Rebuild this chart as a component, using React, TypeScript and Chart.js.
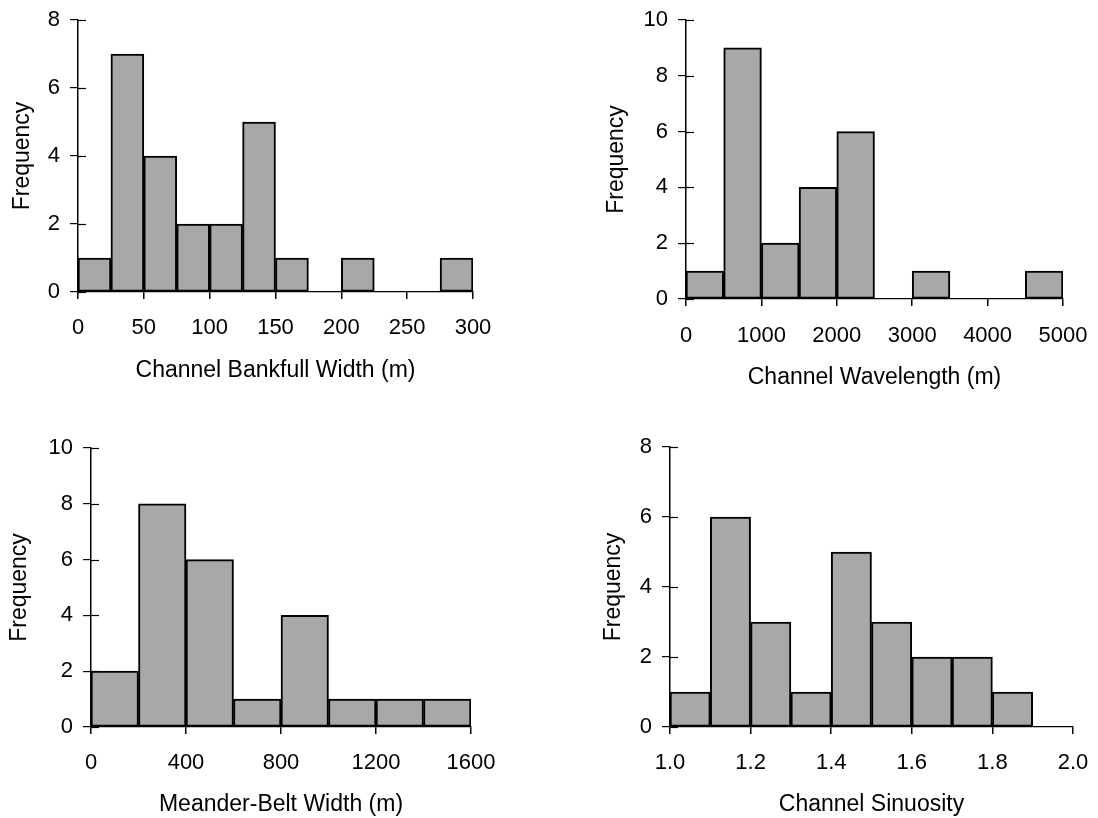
import React, { useEffect, useRef } from 'react';
import { Chart, registerables } from 'chart.js';

Chart.register(...registerables);

// ---------- data ----------
const bankfullBinStarts = [0, 25, 50, 75, 100, 125, 150, 175, 200, 225, 250, 275];
const bankfullBinWidth = 25;
const bankfullCounts = [1, 7, 4, 2, 2, 5, 1, 0, 1, 0, 0, 1];
const bankfullXTicks = [0, 50, 100, 150, 200, 250, 300];
const bankfullXLabels = ['0', '50', '100', '150', '200', '250', '300'];
const bankfullYTicks = [0, 2, 4, 6, 8];

const wavelengthBinStarts = [0, 500, 1000, 1500, 2000, 2500, 3000, 3500, 4000, 4500];
const wavelengthBinWidth = 500;
const wavelengthCounts = [1, 9, 2, 4, 6, 0, 1, 0, 0, 1];
const wavelengthXTicks = [0, 1000, 2000, 3000, 4000, 5000];
const wavelengthXLabels = ['0', '1000', '2000', '3000', '4000', '5000'];
const wavelengthYTicks = [0, 2, 4, 6, 8, 10];

const beltBinStarts = [0, 200, 400, 600, 800, 1000, 1200, 1400];
const beltBinWidth = 200;
const beltCounts = [2, 8, 6, 1, 4, 1, 1, 1];
const beltXTicks = [0, 400, 800, 1200, 1600];
const beltXLabels = ['0', '400', '800', '1200', '1600'];
const beltYTicks = [0, 2, 4, 6, 8, 10];

const sinuosityBinStarts = [1.0, 1.1, 1.2, 1.3, 1.4, 1.5, 1.6, 1.7, 1.8, 1.9];
const sinuosityBinWidth = 0.1;
const sinuosityCounts = [1, 6, 3, 1, 5, 3, 2, 2, 1, 0];
const sinuosityXTicks = [1.0, 1.2, 1.4, 1.6, 1.8, 2.0];
const sinuosityXLabels = ['1.0', '1.2', '1.4', '1.6', '1.8', '2.0'];
const sinuosityYTicks = [0, 2, 4, 6, 8];

const yTitle = 'Frequency';

const FONT = '"Liberation Sans", Arial, Helvetica, sans-serif';
const TICK_SIZE = 22;
const TITLE_SIZE = 23;
const BAR_FILL = '#a8a8a8';

type PanelProps = {
  left: number;
  top: number;
  w: number;
  h: number;
  area: { L: number; T: number; R: number; B: number };
  xTickPad: number;
  xTitlePadBottom: number;
  yTitlePadTop: number;
  binStarts: number[];
  binWidth: number;
  counts: number[];
  xTicks: number[];
  xLabels: string[];
  yTicks: number[];
  xTitle: string;
};

const innerYTicks = {
  id: 'innerYTicks',
  afterDraw(chart: any) {
    const ys = chart.scales.y;
    const ctx = chart.ctx;
    const x0 = chart.chartArea.left;
    ctx.save();
    ctx.strokeStyle = '#000';
    ctx.lineWidth = 1.2;
    ys.ticks.forEach((t: any) => {
      const py = Math.round(ys.getPixelForValue(t.value)) + 0.5;
      ctx.beginPath();
      ctx.moveTo(x0, py);
      ctx.lineTo(x0 + 8, py);
      ctx.stroke();
    });
    ctx.restore();
  },
};

function Panel(p: PanelProps) {
  const ref = useRef<HTMLCanvasElement>(null);
  useEffect(() => {
    if (!ref.current) return;
    const { L, T, R, B } = p.area;
    const points = p.binStarts
      .map((s, i) => ({ x: s + p.binWidth / 2, y: p.counts[i] }))
      .filter((d) => d.y > 0);
    const xMin = p.xTicks[0];
    const xMax = p.xTicks[p.xTicks.length - 1];
    const yMax = p.yTicks[p.yTicks.length - 1];
    const chart = new Chart(ref.current, {
      type: 'bar',
      data: {
        datasets: [
          {
            data: points as any,
            backgroundColor: BAR_FILL,
            borderColor: '#000',
            borderWidth: 2,
            borderSkipped: false,
            categoryPercentage: 1,
            barPercentage: 1,
          },
        ],
      },
      options: {
        responsive: false,
        animation: false,
        devicePixelRatio: 1,
        layout: { padding: { left: 0, top: T, right: p.w - R, bottom: 0 } },
        plugins: { legend: { display: false }, tooltip: { enabled: false } },
        scales: {
          x: {
            type: 'linear',
            min: xMin,
            max: xMax,
            offset: false,
            grid: {
              offset: false,
              display: true,
              drawOnChartArea: false,
              drawTicks: true,
              tickLength: 7,
              color: '#000',
              lineWidth: 1.5,
            },
            border: { display: true, color: '#000', width: 1.2 },
            afterBuildTicks: (s: any) => {
              s.ticks = p.xTicks.map((v) => ({ value: v }));
            },
            ticks: {
              autoSkip: false,
              maxRotation: 0,
              minRotation: 0,
              padding: p.xTickPad,
              color: '#000',
              font: { family: FONT, size: TICK_SIZE },
              callback: (_v: any, i: number) => p.xLabels[i],
            },
            title: {
              display: true,
              text: p.xTitle,
              color: '#000',
              font: { family: FONT, size: TITLE_SIZE },
              padding: { top: 0, bottom: p.xTitlePadBottom },
            },
            afterFit: (s: any) => {
              s.height = p.h - B;
              s.paddingLeft = 0;
              s.paddingRight = 0;
              s.paddingTop = 0;
              s.paddingBottom = 0;
            },
          },
          y: {
            type: 'linear',
            min: 0,
            max: yMax,
            grid: {
              display: true,
              drawOnChartArea: false,
              drawTicks: true,
              tickLength: 8,
              color: '#000',
              lineWidth: 1.2,
            },
            border: { display: true, color: '#000', width: 1.5 },
            afterBuildTicks: (s: any) => {
              s.ticks = p.yTicks.map((v) => ({ value: v }));
            },
            ticks: {
              autoSkip: false,
              padding: 10,
              color: '#000',
              font: { family: FONT, size: TICK_SIZE },
              callback: (v: any) => String(v),
            },
            title: {
              display: true,
              text: yTitle,
              color: '#000',
              font: { family: FONT, size: TITLE_SIZE },
              padding: { top: p.yTitlePadTop, bottom: 0 },
            },
            afterFit: (s: any) => {
              s.width = L;
              s.paddingLeft = 0;
              s.paddingRight = 0;
              s.paddingTop = 0;
              s.paddingBottom = 0;
            },
          },
        },
      },
      plugins: [innerYTicks],
    } as any);
    return () => chart.destroy();
  }, []);
  return (
    <canvas
      ref={ref}
      width={p.w}
      height={p.h}
      style={{ position: 'absolute', left: p.left, top: p.top, width: p.w, height: p.h }}
    />
  );
}

export default function App() {
  return (
    <div
      style={{
        position: 'absolute',
        left: 0,
        top: 0,
        width: 1098,
        height: 818,
        background: '#fff',
        overflow: 'hidden',
      }}
    >
      <Panel
        left={0}
        top={0}
        w={549}
        h={409}
        area={{ L: 78, T: 20, R: 473, B: 292 }}
        xTickPad={16}
        xTitlePadBottom={25}
        yTitlePadTop={9}
        binStarts={bankfullBinStarts}
        binWidth={bankfullBinWidth}
        counts={bankfullCounts}
        xTicks={bankfullXTicks}
        xLabels={bankfullXLabels}
        yTicks={bankfullYTicks}
        xTitle="Channel Bankfull Width (m)"
      />
      <Panel
        left={549}
        top={0}
        w={549}
        h={409}
        area={{ L: 137, T: 20, R: 514, B: 299 }}
        xTickPad={17}
        xTitlePadBottom={18}
        yTitlePadTop={54}
        binStarts={wavelengthBinStarts}
        binWidth={wavelengthBinWidth}
        counts={wavelengthCounts}
        xTicks={wavelengthXTicks}
        xLabels={wavelengthXLabels}
        yTicks={wavelengthYTicks}
        xTitle="Channel Wavelength (m)"
      />
      <Panel
        left={0}
        top={409}
        w={549}
        h={409}
        area={{ L: 91, T: 39, R: 471, B: 318 }}
        xTickPad={16}
        xTitlePadBottom={0}
        yTitlePadTop={6}
        binStarts={beltBinStarts}
        binWidth={beltBinWidth}
        counts={beltCounts}
        xTicks={beltXTicks}
        xLabels={beltXLabels}
        yTicks={beltYTicks}
        xTitle="Meander-Belt Width (m)"
      />
      <Panel
        left={549}
        top={409}
        w={549}
        h={409}
        area={{ L: 121, T: 38, R: 524, B: 318 }}
        xTickPad={16}
        xTitlePadBottom={0}
        yTitlePadTop={51}
        binStarts={sinuosityBinStarts}
        binWidth={sinuosityBinWidth}
        counts={sinuosityCounts}
        xTicks={sinuosityXTicks}
        xLabels={sinuosityXLabels}
        yTicks={sinuosityYTicks}
        xTitle="Channel Sinuosity"
      />
    </div>
  );
}
